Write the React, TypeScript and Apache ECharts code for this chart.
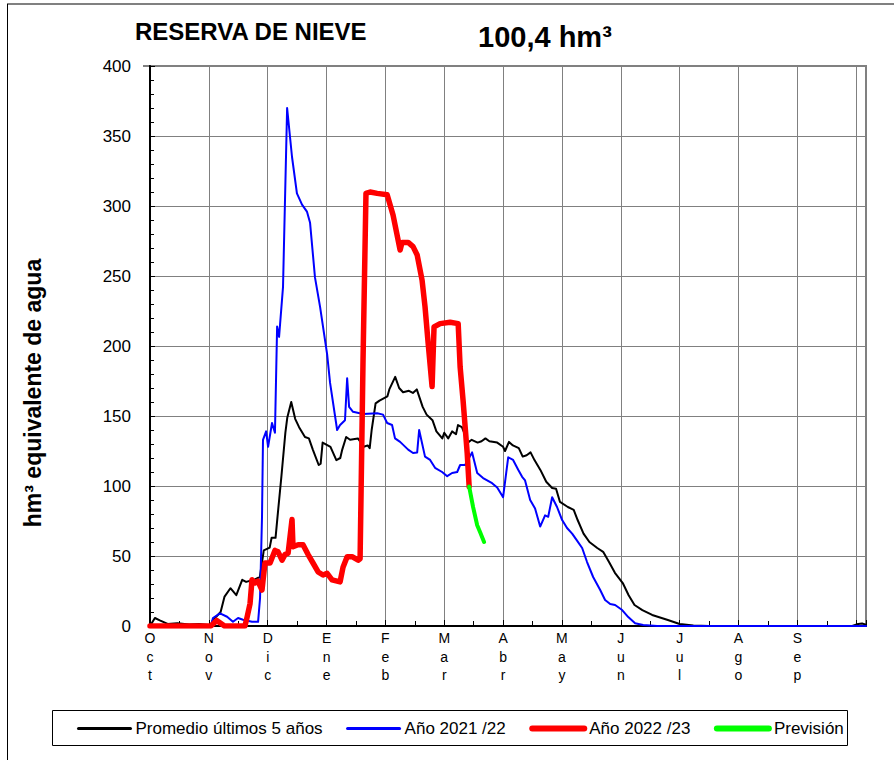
import React, { useEffect, useRef } from "react";
import * as echarts from "echarts";

const FONT = '"Liberation Sans", Arial, Helvetica, sans-serif';

const monthLabels = ["Oct", "Nov", "Dic", "Ene", "Feb", "Mar", "Abr", "May", "Jun", "Jul", "Ago", "Sep"];
const seriesNames = ["Promedio últimos 5 años", "Año 2021 /22", "Año 2022 /23", "Previsión"];
const titleText = "RESERVA DE NIEVE";
const totalText = "100,4 hm³";
const yAxisTitle = "hm³ equivalente de agua";

// [day since 1 Oct, hm3]
const promedio: [number, number][] = [
  [0, 0], [2.5, 5.7], [5, 4], [9, 1.5], [14, 2], [20, 1], [25, 1.5], [31, 0.5], [32, 4], [36, 10],
  [38, 21], [41, 27], [44, 22], [47, 33], [49, 31.5], [53, 33], [56, 35], [58, 54], [61, 56], [62, 63],
  [64, 63], [65, 78], [67, 107], [69, 138], [70, 149], [72, 160], [74, 148], [76, 142], [79, 135], [81, 134],
  [83, 126], [86, 115], [87, 116], [88, 131], [92, 128], [95, 118.5], [97, 120], [98, 126], [100, 135], [102, 133],
  [106, 134], [109, 128], [111, 129], [112, 127], [113, 140], [115, 159], [117, 161], [121, 164], [122, 169], [125, 178],
  [127, 170], [129, 167], [132, 168], [134, 166.5], [136, 169], [139, 156.5], [141, 151], [144, 147], [146, 139], [149, 134],
  [150, 138], [152, 134], [154, 139], [156, 137], [157, 143.5], [159, 142], [161, 135], [162, 131], [164, 133], [167, 131],
  [169, 132], [171, 134], [173, 132], [177, 131], [180, 128], [181, 125], [183, 131.5], [185, 129], [188, 127], [190, 121],
  [192, 122], [194, 124], [196, 118.5], [199, 111.5], [202, 103], [205, 98.6], [207, 98], [209, 88.6], [213, 85], [216, 83],
  [218, 75.7], [221, 66], [224, 60], [228, 55.7], [231, 53], [234, 45.7], [237, 38], [241, 30.7], [244, 22], [247, 15],
  [251, 11.4], [256, 7.9], [264, 4.3], [270, 1.4], [277, 0.3], [285, 0], [358, 0], [361, 1.5], [363, 1.8], [365, 1],
];

const ano2122: [number, number][] = [
  [0, 0], [31, 0], [32.1, 5.7], [35.7, 9], [39.3, 6.6], [42.3, 3], [44.9, 5.7], [47.4, 4.5], [52, 3], [55.1, 3],
  [56.1, 20], [57.1, 78], [57.6, 133], [59.2, 139], [60.2, 128], [62.2, 145], [63.7, 138], [64.8, 214], [65.8, 206.5], [67.8, 242],
  [69.9, 370], [72.4, 335], [74.9, 309], [77.5, 301], [80, 296], [81.6, 288], [84.1, 249], [86.7, 228], [90.3, 194], [91.8, 173.6],
  [95.4, 140], [96.9, 143.6], [99.4, 147], [100.5, 177], [101.5, 156.5], [103.5, 153], [108.6, 151.5], [115.8, 152], [118.8, 151], [120.9, 145],
  [123.4, 143.6], [124.9, 134], [127.5, 131.5], [131.6, 126], [134.1, 123.6], [136.2, 124], [137.2, 140], [140.2, 121], [142.8, 118.6], [145.3, 113],
  [148.9, 110], [151.5, 107], [154, 109.3], [156.6, 110], [158.1, 115], [160.6, 115], [164.2, 124], [166.8, 109.3], [169.8, 105.7], [174.4, 102],
  [177, 99], [180, 92], [182.6, 120.5], [185.1, 118.6], [187.7, 111.6], [189.7, 106.6], [191.2, 104], [193.8, 90], [196.3, 84], [198.9, 71],
  [201.4, 79], [203, 78], [205, 92], [207.5, 85], [210.1, 75.7], [212.6, 70], [215.2, 66], [217.7, 61], [220.3, 55.7], [222.8, 45.7],
  [225.9, 35], [229.5, 25.7], [232, 18.6], [234.6, 15.7], [237.1, 15], [240.7, 11.4], [243.8, 6.4], [247.3, 2], [251.4, 0.7], [258.5, 0],
  [365, 0],
];

const ano2223: [number, number][] = [
  [0, 0], [31, 0], [34, 4], [38, 0], [48.4, 0], [49.5, 6.4], [51, 16], [52, 33], [53.5, 30.7], [55, 32],
  [57.1, 25.7], [58.6, 45], [61.2, 45], [63.7, 54], [65.3, 53], [67.3, 47], [68.8, 51], [70.4, 52], [72.4, 76], [72.9, 56.6],
  [75.5, 58], [78, 58], [80.6, 51], [83.1, 45], [85.7, 38.6], [88.2, 36.4], [90.3, 37.6], [92.8, 33], [96.9, 31.5], [98.4, 42],
  [100.5, 49.5], [103, 49.5], [106.1, 47], [107.1, 48], [108.6, 190], [110.1, 309], [112.2, 310], [115.8, 309], [120.9, 308], [123.9, 293.6],
  [127.5, 268.6], [128.5, 274], [131.6, 274], [134.1, 271], [136.2, 265], [138.7, 247], [140.2, 228], [141.8, 202], [143.8, 171], [144.8, 213.6],
  [147.9, 216], [153, 217], [157.1, 216], [158.1, 185], [159.6, 161], [161.7, 123.6], [162.7, 99.6],
];

const prevision: [number, number][] = [
  [162.7, 99.6], [164.7, 85], [166.8, 72], [168.3, 67], [170.3, 60],
];

const seriesColors = ["#000000", "#0000ff", "#ff0000", "#00ff00"];
const seriesWidths = [2, 2, 5.5, 4];
const legendWidths = [3, 3, 6, 6];

export default function App() {
  const ref = useRef<HTMLDivElement>(null);

  useEffect(() => {
    if (!ref.current) return;
    const chart = echarts.init(ref.current, undefined, { renderer: "svg" });
    const datasets = [promedio, ano2122, ano2223, prevision];

    chart.setOption({
      animation: false,
      backgroundColor: "#ffffff",
      textStyle: { fontFamily: FONT },
      title: [
        {
          text: titleText,
          left: 135,
          top: 19,
          padding: 0,
          textStyle: { fontSize: 24, fontWeight: "bold", color: "#000", fontFamily: FONT },
        },
        {
          text: totalText,
          left: 478,
          top: 22,
          padding: 0,
          textStyle: { fontSize: 29, fontWeight: "bold", color: "#000", fontFamily: FONT },
        },
      ],
      grid: {
        left: 150,
        top: 66,
        right: 28,
        bottom: 134,
        show: true,
        borderColor: "#808080",
        borderWidth: 2,
        backgroundColor: "transparent",
      },
      legend: {
        left: 77,
        top: 720,
        padding: 0,
        itemWidth: 52,
        itemHeight: 14,
        itemGap: 23.5,
        itemStyle: { color: "rgba(0,0,0,0)", borderWidth: 0, opacity: 0 },
        textStyle: { fontSize: 17, color: "#000", fontFamily: FONT },
        data: seriesNames.map((n, i) => ({
          name: n,
          lineStyle: { width: legendWidths[i], color: seriesColors[i], cap: "round" },
        })),
      },
      xAxis: {
        type: "value",
        min: 0,
        max: 365,
        interval: 30,
        axisLine: { show: true, lineStyle: { color: "#000", width: 2 } },
        axisTick: { show: true, inside: true, length: 6, lineStyle: { color: "#000", width: 1 } },
        minorTick: { show: true, splitNumber: 2, length: 5, lineStyle: { color: "#000", width: 1 } },
        splitLine: { show: true, lineStyle: { color: "#808080", width: 1 } },
        axisLabel: {
          show: true,
          showMaxLabel: false,
          margin: 3,
          fontSize: 14,
          lineHeight: 18.5,
          color: "#000",
          fontFamily: FONT,
          formatter: (v: number) => {
            const i = Math.round(v / 30);
            return i < monthLabels.length ? monthLabels[i].split("").join("\n") : "";
          },
        },
      },
      yAxis: {
        type: "value",
        min: 0,
        max: 400,
        interval: 50,
        axisLine: { show: true, lineStyle: { color: "#000", width: 2 } },
        axisTick: { show: true, inside: true, length: 5, lineStyle: { color: "#000", width: 1 } },
        minorTick: { show: true, splitNumber: 5, length: 4, lineStyle: { color: "#000", width: 1 } },
        splitLine: { show: true, lineStyle: { color: "#808080", width: 1 } },
        axisLabel: { fontSize: 17, color: "#000", margin: 19, fontFamily: FONT },
      },
      graphic: [
        { type: "line", shape: { x1: 7, y1: 4, x2: 894, y2: 4 }, style: { stroke: "#808080", lineWidth: 2 }, silent: true },
        { type: "line", shape: { x1: 7.5, y1: 4, x2: 7.5, y2: 760 }, style: { stroke: "#000", lineWidth: 1 }, silent: true },
        {
          type: "line",
          shape: { x1: 143, y1: 66, x2: 150, y2: 66 },
          style: { stroke: "#000", lineWidth: 1 },
          silent: true,
        },
        {
          type: "rect",
          shape: { x: 52.5, y: 710.5, width: 795, height: 35 },
          style: { fill: "none", stroke: "#000", lineWidth: 1 },
          silent: true,
          z: -1,
        },
        {
          type: "text",
          x: 33,
          y: 393,
          rotation: Math.PI / 2,
          style: {
            text: yAxisTitle,
            fontSize: 23,
            fontWeight: "bold",
            fill: "#000",
            fontFamily: FONT,
            align: "center",
            verticalAlign: "middle",
          },
          silent: true,
        },
      ],
      series: datasets.map((d, i) => ({
        name: seriesNames[i],
        type: "line",
        data: d,
        symbol: "none",
        smooth: false,
        z: 2 + i,
        lineStyle: { color: seriesColors[i], width: seriesWidths[i], cap: "round", join: "round" },
        itemStyle: { color: seriesColors[i] },
      })),
    });

    return () => chart.dispose();
  }, []);

  return <div ref={ref} style={{ width: 894, height: 760, position: "absolute", left: 0, top: 0 }} />;
}
